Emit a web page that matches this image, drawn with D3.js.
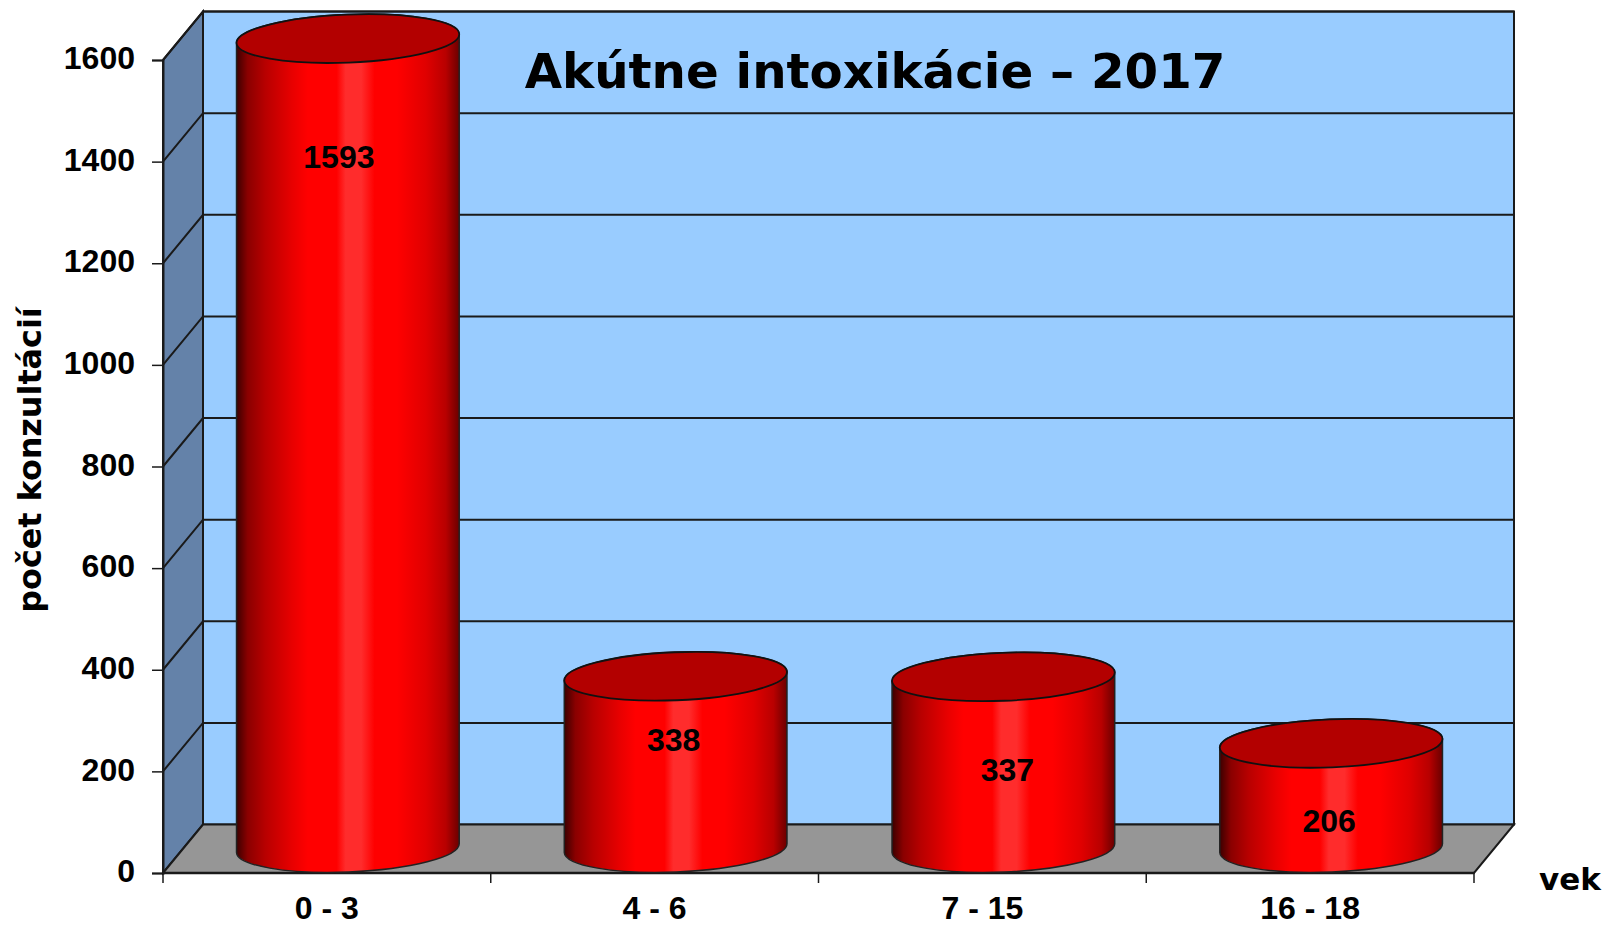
<!DOCTYPE html>
<html><head><meta charset="utf-8">
<script src="https://cdn.jsdelivr.net/npm/d3@7"></script>
<style>html,body{margin:0;padding:0;background:#fff;overflow:hidden}svg{display:block}</style>
</head><body><svg id="c" width="1606" height="925"></svg>
<script>
const categories = ["0 - 3", "4 - 6", "7 - 15", "16 - 18"];
const values = [1593, 338, 337, 206];
const valueLabels = ["1593", "338", "337", "206"];
const yTicks = [0, 200, 400, 600, 800, 1000, 1200, 1400, 1600];
const titleText = "Akútne intoxikácie – 2017";
const yAxisTitle = "počet konzultácií";
const xAxisTitle = "vek";
// manual label placement of the source chart, in y-axis units (height) and pixels (x shift)
const labelHeights = [1361, 213, 154, 54];
const labelShift = [-9, -2, 4, -2];

const DX = 40, DY = -48.5;
const x = d3.scaleBand().domain(categories).range([163, 1474]).padding(0);
const y = d3.scaleLinear().domain([0, 1600]).range([873, 60]);
const svg = d3.select("#c");
const defs = svg.append("defs");
const grad = defs.append("linearGradient").attr("id", "cyl").attr("x1", "0").attr("x2", "1").attr("y1", "0").attr("y2", "0");
[[0, "#3c0000"], [.05, "#8a0000"], [.13, "#b80000"], [.25, "#e80000"], [.32, "#ff0000"], [.45, "#ff0000"], [.49, "#ff2c2c"], [.56, "#ff2c2c"], [.62, "#ff0000"], [.72, "#ff0000"], [.85, "#e00000"], [.94, "#b80000"], [1, "#6a0000"]]
  .forEach(s => grad.append("stop").attr("offset", s[0]).attr("stop-color", s[1]));

const x0 = x.range()[0], x1 = x.range()[1], yB = y(0), yT = y(1600);
const line = "#1a1a1a";
const labelFont = "bold 32px 'Liberation Sans', Arial, sans-serif";
const titleFont = "'DejaVu Sans', Verdana, sans-serif";
// walls
svg.append("rect").attr("x", x0 + DX).attr("y", yT + DY).attr("width", x1 - x0).attr("height", yB - yT)
  .attr("fill", "#99ccff").attr("stroke", line).attr("stroke-width", 2);
svg.append("path").attr("d", `M${x0},${yB}L${x0 + DX},${yB + DY}L${x0 + DX},${yT + DY}L${x0},${yT}Z`)
  .attr("fill", "#6482a9").attr("stroke", line).attr("stroke-width", 2);
svg.append("path").attr("d", `M${x0},${yB}L${x0 + DX},${yB + DY}L${x1 + DX},${yB + DY}L${x1},${yB}Z`)
  .attr("fill", "#969696").attr("stroke", line).attr("stroke-width", 2);
// gridlines
svg.append("g").selectAll("path").data(yTicks.slice(1)).join("path")
  .attr("d", d => `M${x0},${y(d)}L${x0 + DX},${y(d) + DY}L${x1 + DX},${y(d) + DY}`)
  .attr("fill", "none").attr("stroke", line).attr("stroke-width", 2);

// axes
const gy = svg.append("g").attr("transform", `translate(${x0},0)`)
  .call(d3.axisLeft(y).tickValues(yTicks).tickFormat(d3.format("d")).tickSize(11).tickPadding(17));
const gx = svg.append("g").attr("transform", `translate(0,${yB})`)
  .call(d3.axisBottom(x).tickSize(0).tickPadding(23));
gx.select(".domain").remove();
svg.append("g").selectAll("line").data(d3.range(categories.length + 1)).join("line")
  .attr("x1", i => x0 + i * x.step()).attr("x2", i => x0 + i * x.step())
  .attr("y1", yB).attr("y2", yB + 10).attr("stroke", line).attr("stroke-width", 1.5);
svg.append("line").attr("x1", x0).attr("x2", x1).attr("y1", yB).attr("y2", yB).attr("stroke", line).attr("stroke-width", 2.5);
gy.select(".domain").attr("stroke", line).attr("stroke-width", 2);
gy.selectAll(".tick line").attr("stroke", line).attr("stroke-width", 1.5);
[gx, gy].forEach(g => g.selectAll("text").attr("fill", "#000").style("font", labelFont));
gx.selectAll("text").attr("dy", "0.71em");
gy.selectAll("text").attr("dy", "0.27em");

// cylinders
const rx = x.bandwidth() * 0.34, ry = 24, tilt = -2.3;
const rad = tilt * Math.PI / 180;
const ex = rx * Math.cos(rad), ey = rx * Math.sin(rad);
const bars = svg.append("g").selectAll("g").data(categories.map((c, i) => ({ c, v: values[i], i }))).join("g")
  .attr("transform", d => `translate(${x(d.c) + x.bandwidth() / 2 + DX / 2 + 1},0)`);
bars.append("path").attr("d", d => {
  const top = y(d.v) - 25, bot = y(0) - 25;
  return `M${-ex},${top - ey}L${-ex},${bot - ey}A${rx},${ry} ${tilt} 0 0 ${ex},${bot + ey}L${ex},${top + ey}A${rx},${ry} ${tilt} 0 0 ${-ex},${top - ey}Z`;
}).attr("fill", "url(#cyl)").attr("stroke", "#222").attr("stroke-width", 1.5);
bars.append("ellipse").attr("rx", rx).attr("ry", ry)
  .attr("transform", d => `translate(0,${y(d.v) - 25}) rotate(${tilt})`)
  .attr("fill", "#b30000").attr("stroke", "#111").attr("stroke-width", 1.8);
bars.append("text").text(d => valueLabels[d.i])
  .attr("x", d => labelShift[d.i])
  .attr("y", d => y(labelHeights[d.i]) - 25)
  .attr("dy", "0.35em").attr("text-anchor", "middle").attr("fill", "#000")
  .style("font", labelFont);

// titles
svg.append("text").text(titleText).attr("x", 875).attr("y", 71).attr("dy", "0.35em").attr("text-anchor", "middle")
  .attr("fill", "#000").style("font", "bold 48.3px " + titleFont);
svg.append("text").text(yAxisTitle).attr("transform", "translate(30,460) rotate(-90)").attr("dy", "0.35em")
  .attr("text-anchor", "middle").attr("fill", "#000").style("font", "bold 31.8px " + titleFont);
svg.append("text").text(xAxisTitle).attr("x", 1570).attr("y", 879).attr("dy", "0.35em").attr("text-anchor", "middle")
  .attr("fill", "#000").style("font", "bold 31px " + titleFont);
</script></body></html>
